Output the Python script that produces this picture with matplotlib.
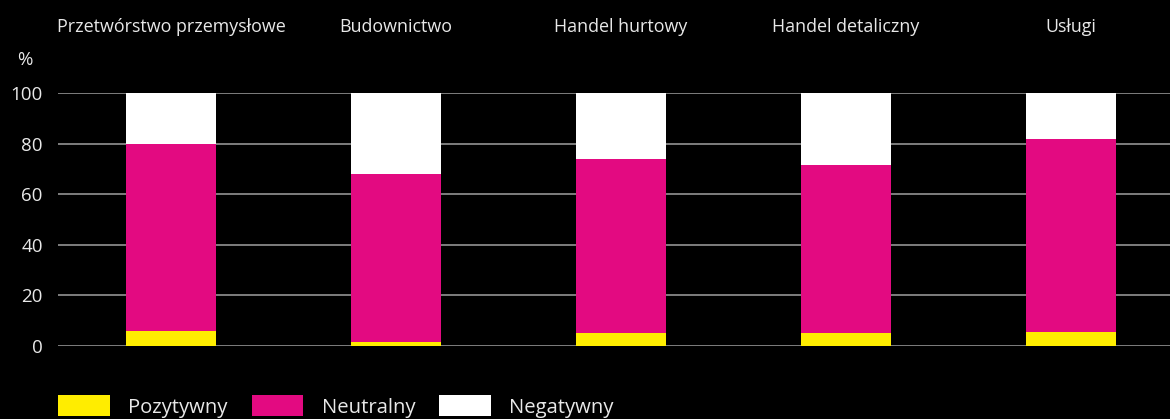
import matplotlib
matplotlib.use("Agg")
import matplotlib.pyplot as plt
import numpy as np
from matplotlib.patches import Patch

categories = ["Przetwórstwo przemysłowe", "Budownictwo", "Handel hurtowy",
              "Handel detaliczny", "Usługi"]
positive = [6.0, 1.5, 5.3, 5.0, 5.4]
neutral = [74.0, 66.5, 68.6, 66.5, 76.6]
negative = [20.0, 32.0, 26.1, 28.5, 18.0]
series_labels = ["Pozytywny", "Neutralny", "Negatywny"]
colors = ["#FFED00", "#E30A81", "#FFFFFF"]
yticks = [0, 20, 40, 60, 80, 100]

plt.rcParams['font.family'] = ['Open Sans', 'DejaVu Sans']
txt = "#E8E8E8"

fig = plt.figure(figsize=(11.7, 4.19), dpi=100, facecolor="black")
W, H = 1170, 419
ax = fig.add_axes([58 / W, 1 - 346 / H, 1 - 58 / W, (346 - 93) / H])
ax.set_facecolor("black")

x = np.arange(len(categories))
bottom = np.zeros(len(categories))
for vals, lab, c in zip([positive, neutral, negative], series_labels, colors):
    ax.bar(x, vals, width=0.4, bottom=bottom, color=c, label=lab,
           edgecolor="none", zorder=3)
    bottom += np.array(vals)

ax.set_ylim(0, 100)
ax.set_xlim(-0.502, 4.44)
ax.set_yticks(yticks)
ax.yaxis.grid(True, color="#a0a0a0", linewidth=1.1, zorder=0)
ax.set_axisbelow(True)
for s in ax.spines.values():
    s.set_visible(False)
ax.tick_params(axis="y", length=0, pad=11, labelsize=13.5, labelcolor=txt)
ax.xaxis.tick_top()
ax.set_xticks(x)
ax.set_xticklabels(categories)
ax.tick_params(axis="x", length=0, pad=41, labelsize=12.9, labelcolor=txt)

fig.text(25 / W, 1 - 60 / H, "%", ha="center", va="center", color=txt, fontsize=13.5)

handles = [Patch(facecolor=c, edgecolor="none") for c in colors]
fig.legend(handles, series_labels, loc="upper left",
           bbox_to_anchor=(58 / W, 1 - 395 / H), ncol=3, frameon=False,
           fontsize=14.6, labelcolor=txt, handlelength=2.55, handleheight=1.25,
           handletextpad=0.9, columnspacing=1.2, borderpad=0, borderaxespad=0)

fig.savefig("out.png", dpi=100, facecolor="black")
